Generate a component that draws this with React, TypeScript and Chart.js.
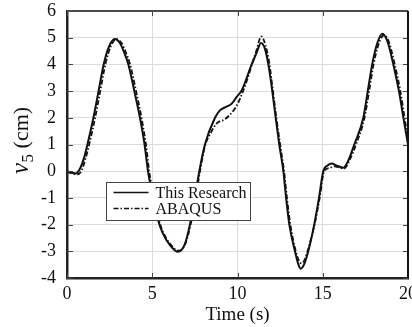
import React, { useEffect, useRef } from "react";
import { Chart, registerables } from "chart.js";

Chart.register(...registerables);

const FONT = '"Liberation Serif", "Times New Roman", serif';

const xTickValues = [0, 5, 10, 15, 20];
const yTickValues = [-4, -3, -2, -1, 0, 1, 2, 3, 4, 5, 6];

const seriesLabels = ["This Research", "ABAQUS"];

const timeResearch = [0, 0.3, 0.5, 0.75, 1.0, 1.2, 1.55, 1.85, 2.15, 2.45, 2.8, 3.1, 3.35, 3.6, 3.95, 4.28, 4.55, 4.75, 5.05, 5.35, 5.6, 6.04, 6.5, 6.9, 7.21, 7.5, 7.76, 8.09, 8.68, 8.97, 9.3, 9.66, 9.95, 10.25, 10.83, 11.1, 11.38, 11.6, 11.81, 12.04, 12.24, 12.45, 12.69, 12.85, 13.04, 13.37, 13.55, 13.7, 13.9, 14.15, 14.5, 14.78, 15.03, 15.3, 15.52, 15.8, 16.2, 16.5, 16.85, 17.38, 17.64, 17.9, 18.2, 18.5, 18.8, 19.14, 19.47, 19.73, 20];
const valueResearch = [0, -0.06, -0.09, 0.08, 0.5, 1.0, 2.0, 3.0, 4.0, 4.65, 4.95, 4.8, 4.45, 4.0, 3.0, 2.0, 1.0, 0.0, -1.0, -1.85, -2.3, -2.77, -3.02, -2.75, -2.0, -1.0, 0.0, 1.0, 2.0, 2.28, 2.4, 2.53, 2.78, 3.03, 4.0, 4.4, 4.8, 4.6, 4.0, 3.0, 2.0, 1.0, 0.0, -1.0, -2.0, -3.0, -3.45, -3.65, -3.5, -3.0, -2.0, -1.0, 0.0, 0.22, 0.29, 0.22, 0.13, 0.4, 1.0, 2.0, 3.0, 4.0, 4.8, 5.15, 4.85, 4.0, 3.0, 2.0, 1.0];

const timeAbaqus = [0, 0.3, 0.6, 0.85, 1.1, 1.3, 1.65, 1.95, 2.25, 2.55, 2.9, 3.2, 3.45, 3.7, 4.05, 4.37, 4.63, 4.82, 5.1, 5.4, 5.65, 6.08, 6.55, 6.95, 7.25, 7.55, 7.8, 8.12, 8.4, 8.8, 9.27, 9.85, 10.15, 10.5, 10.85, 11.1, 11.4, 11.65, 11.85, 12.08, 12.28, 12.5, 12.73, 12.9, 13.1, 13.42, 13.6, 13.75, 13.95, 14.15, 14.52, 14.82, 15.08, 15.4, 15.7, 16.0, 16.25, 16.6, 16.95, 17.45, 17.72, 17.98, 18.3, 18.6, 18.9, 19.22, 19.55, 19.8, 20];
const valueAbaqus = [-0.02, -0.08, -0.12, 0.02, 0.5, 1.0, 2.0, 3.0, 4.0, 4.65, 4.95, 4.8, 4.45, 4.0, 3.0, 2.0, 1.0, 0.0, -1.0, -1.85, -2.3, -2.75, -2.98, -2.7, -2.0, -1.0, 0.0, 1.0, 1.4, 1.8, 1.95, 2.35, 2.72, 3.3, 4.0, 4.5, 5.05, 4.7, 4.1, 3.0, 2.0, 1.0, 0.0, -1.0, -2.0, -3.0, -3.35, -3.45, -3.3, -2.9, -2.0, -1.0, 0.0, 0.12, 0.18, 0.13, 0.1, 0.45, 1.0, 2.0, 3.0, 4.0, 4.8, 5.1, 4.8, 4.0, 3.0, 2.0, 1.2];

const DASH_DOT = [5, 2, 1.5, 2];

const framePlugin = {
  id: "frameAndLegend",
  afterDatasetsDraw(chart: any) {
    const { ctx, chartArea, scales } = chart;
    const { left, right, top, bottom } = chartArea;
    ctx.save();
    // inward tick marks
    ctx.strokeStyle = "#444";
    ctx.lineWidth = 1;
    ctx.setLineDash([]);
    ctx.beginPath();
    xTickValues.forEach((t) => {
      const x = Math.round(scales.x.getPixelForValue(t)) + 0.5;
      ctx.moveTo(x, top);
      ctx.lineTo(x, top + 5);
      ctx.moveTo(x, bottom);
      ctx.lineTo(x, bottom - 5);
    });
    yTickValues.forEach((v) => {
      const y = Math.round(scales.y.getPixelForValue(v)) + 0.5;
      ctx.moveTo(left, y);
      ctx.lineTo(left + 6, y);
      ctx.moveTo(right, y);
      ctx.lineTo(right - 5, y);
    });
    ctx.stroke();
    // frame
    ctx.lineWidth = 2;
    ctx.strokeStyle = "#4a4a4a";
    ctx.beginPath();
    ctx.moveTo(left, top);
    ctx.lineTo(right, top);
    ctx.stroke();
    ctx.strokeStyle = "#111";
    ctx.beginPath();
    ctx.moveTo(right, top);
    ctx.lineTo(right, bottom);
    ctx.stroke();

    // legend
    const bx = left + 39.5;
    const by = top + 171.5;
    const bw = 144;
    const bh = 38;
    ctx.fillStyle = "#fff";
    ctx.fillRect(bx, by, bw, bh);
    ctx.strokeStyle = "#444";
    ctx.lineWidth = 1;
    ctx.strokeRect(bx, by, bw, bh);
    const rows = [
      { y: by + 10, dash: [] as number[], label: chart.data.datasets[0].label },
      { y: by + 26, dash: DASH_DOT, label: chart.data.datasets[1].label },
    ];
    rows.forEach((r) => {
      ctx.setLineDash(r.dash);
      ctx.lineWidth = 1.6;
      ctx.strokeStyle = "#111";
      ctx.beginPath();
      ctx.moveTo(bx + 7, r.y);
      ctx.lineTo(bx + 42, r.y);
      ctx.stroke();
      ctx.setLineDash([]);
      ctx.fillStyle = "#111";
      ctx.font = `16px ${FONT}`;
      ctx.textBaseline = "middle";
      ctx.textAlign = "left";
      ctx.fillText(r.label, bx + 49, r.y + 1);
    });

    // y-axis title: v5 (cm), rotated
    ctx.translate(31, 174);
    ctx.rotate(-Math.PI / 2);
    ctx.textBaseline = "alphabetic";
    ctx.textAlign = "left";
    ctx.fillStyle = "#111";
    let cx = 0;
    ctx.font = `italic 25px ${FONT}`;
    ctx.fillText("v", cx, -3);
    cx += ctx.measureText("v").width + 0.5;
    ctx.font = `17px ${FONT}`;
    ctx.fillText("5", cx, 2);
    cx += ctx.measureText("5").width;
    ctx.font = `22px ${FONT}`;
    ctx.fillText(" (cm)", cx, -3);
    ctx.restore();
  },
};

export default function App() {
  const canvasRef = useRef<HTMLCanvasElement | null>(null);

  useEffect(() => {
    const canvas = canvasRef.current;
    if (!canvas) return;
    const chart = new Chart(canvas, {
      type: "line",
      data: {
        datasets: [
          {
            label: seriesLabels[0],
            data: timeResearch.map((t, i) => ({ x: t, y: valueResearch[i] })),
            borderColor: "#111",
            borderWidth: 2,
            pointRadius: 0,
            fill: false,
            cubicInterpolationMode: "monotone",
          },
          {
            label: seriesLabels[1],
            data: timeAbaqus.map((t, i) => ({ x: t, y: valueAbaqus[i] })),
            borderColor: "#111",
            borderWidth: 1.8,
            borderDash: DASH_DOT,
            pointRadius: 0,
            fill: false,
            cubicInterpolationMode: "monotone",
          },
        ],
      },
      options: {
        animation: false,
        responsive: false,
        maintainAspectRatio: false,
        layout: { padding: { top: 11, right: 4, left: 0, bottom: 0 } },
        plugins: {
          legend: { display: false },
          tooltip: { enabled: false },
        },
        scales: {
          x: {
            type: "linear",
            min: 0,
            max: 20,
            afterBuildTicks: (scale: any) => {
              scale.ticks = xTickValues.map((v) => ({ value: v }));
            },
            ticks: {
              font: { family: FONT, size: 18 },
              color: "#111",
              padding: 5,
              maxRotation: 0,
              autoSkip: false,
            },
            grid: { color: "#dcdcdc", lineWidth: 1, drawTicks: false },
            border: { display: true, color: "#222", width: 2.5 },
            title: {
              display: true,
              text: "Time (s)",
              font: { family: FONT, size: 19 },
              color: "#111",
              padding: { top: 0, bottom: 1 },
            },
            afterFit: (scale: any) => {
              scale.height = 49;
              scale.paddingLeft = 0;
              scale.paddingRight = 0;
            },
          },
          y: {
            type: "linear",
            min: -4,
            max: 6,
            afterBuildTicks: (scale: any) => {
              scale.ticks = yTickValues.map((v) => ({ value: v }));
            },
            ticks: {
              font: { family: FONT, size: 18 },
              color: "#111",
              padding: 11,
              autoSkip: false,
            },
            grid: { color: "#dcdcdc", lineWidth: 1, drawTicks: false },
            border: { display: true, color: "#222", width: 2.5 },
            afterFit: (scale: any) => {
              scale.width = 67;
              scale.paddingTop = 0;
              scale.paddingBottom = 0;
            },
          },
        },
      },
      plugins: [framePlugin],
    } as any);
    return () => chart.destroy();
  }, []);

  return (
    <div style={{ position: "fixed", left: 0, top: 0, width: 412, height: 327, background: "#fff" }}>
      <canvas ref={canvasRef} width={412} height={327} style={{ width: 412, height: 327, display: "block" }} />
    </div>
  );
}
